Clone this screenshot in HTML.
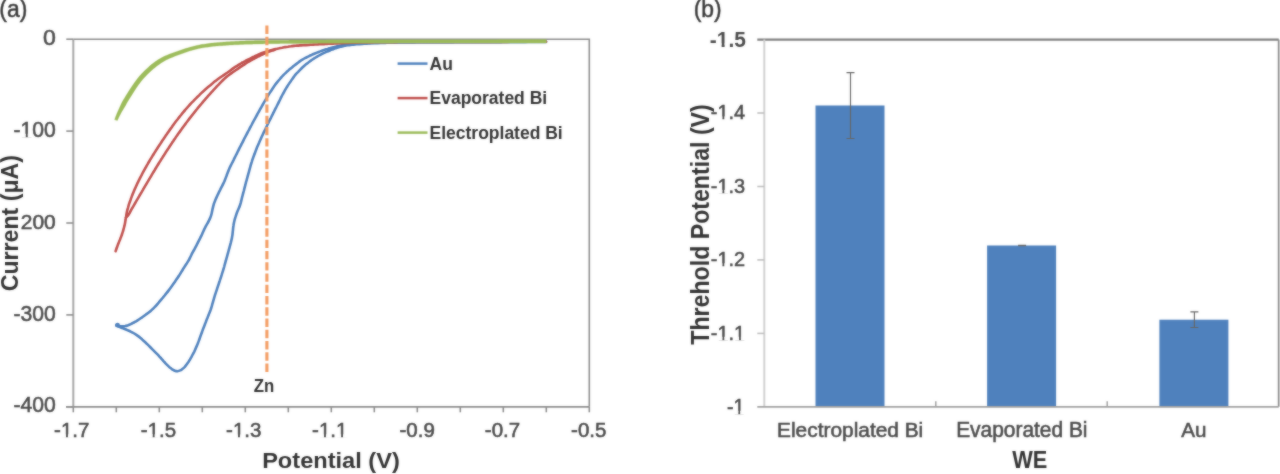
<!DOCTYPE html>
<html><head><meta charset="utf-8"><style>
html,body{margin:0;padding:0;background:#fff;width:1280px;height:474px;overflow:hidden}
svg{display:block}
text{font-family:"Liberation Sans", sans-serif}
text[font-weight="normal"],text:not([font-weight]){stroke:#4a4a4a;stroke-width:0.55px}
</style></head><body>
<svg width="1280" height="474" viewBox="0 0 1280 474">
<defs><filter id="soft" x="0" y="0" width="1280" height="474" filterUnits="userSpaceOnUse" color-interpolation-filters="sRGB"><feGaussianBlur in="SourceGraphic" stdDeviation="0.9" result="b"/><feComposite in="SourceGraphic" in2="b" operator="arithmetic" k1="0" k2="0.5" k3="0.5" k4="0"/></filter></defs>
<g filter="url(#soft)">
<rect width="1280" height="474" fill="#fff"/>
<g fill="none" stroke-linecap="butt">
<path d="M73.3 39.2H589.3V406.8" stroke="#8c8c8c" stroke-width="1.6"/>
<path d="M73.3 39.2V406.8" stroke="#a6a6a6" stroke-width="2"/>
<path d="M66.0 406.8H589.3" stroke="#8c8c8c" stroke-width="1.8"/>
<path d="M66.3 39.2H73.3" stroke="#8c8c8c" stroke-width="1.6"/>
<path d="M66.3 131.1H73.3" stroke="#8c8c8c" stroke-width="1.6"/>
<path d="M66.3 223.0H73.3" stroke="#8c8c8c" stroke-width="1.6"/>
<path d="M66.3 314.9H73.3" stroke="#8c8c8c" stroke-width="1.6"/>
<path d="M66.3 406.8H73.3" stroke="#8c8c8c" stroke-width="1.6"/>
<path d="M73.3 406.8V412.3" stroke="#8c8c8c" stroke-width="1.6"/>
<path d="M116.3 406.8V412.3" stroke="#8c8c8c" stroke-width="1.6"/>
<path d="M159.3 406.8V412.3" stroke="#8c8c8c" stroke-width="1.6"/>
<path d="M202.3 406.8V412.3" stroke="#8c8c8c" stroke-width="1.6"/>
<path d="M245.3 406.8V412.3" stroke="#8c8c8c" stroke-width="1.6"/>
<path d="M288.3 406.8V412.3" stroke="#8c8c8c" stroke-width="1.6"/>
<path d="M331.3 406.8V412.3" stroke="#8c8c8c" stroke-width="1.6"/>
<path d="M374.3 406.8V412.3" stroke="#8c8c8c" stroke-width="1.6"/>
<path d="M417.3 406.8V412.3" stroke="#8c8c8c" stroke-width="1.6"/>
<path d="M460.3 406.8V412.3" stroke="#8c8c8c" stroke-width="1.6"/>
<path d="M503.3 406.8V412.3" stroke="#8c8c8c" stroke-width="1.6"/>
<path d="M546.3 406.8V412.3" stroke="#8c8c8c" stroke-width="1.6"/>
<path d="M589.3 406.8V412.3" stroke="#8c8c8c" stroke-width="1.6"/>
</g>
<g fill="none" stroke-linecap="round" stroke-linejoin="round">
<path d="M116.4 325.3 C116.9 325.4 118.4 325.8 119.3 325.9 C120.3 326.1 121.3 326.2 122.3 326.2 C123.3 326.3 124.3 326.2 125.2 326.1 C126.2 325.9 127.1 325.6 128.1 325.3 C129.0 324.9 129.9 324.5 130.8 324.1 C131.7 323.7 132.6 323.2 133.5 322.7 C134.4 322.3 135.2 321.8 136.1 321.3 C136.9 320.7 137.8 320.2 138.6 319.7 C139.5 319.1 140.3 318.6 141.1 318.0 C142.0 317.4 142.8 316.9 143.6 316.3 C144.4 315.7 145.2 315.1 146.0 314.5 C146.8 313.9 147.6 313.4 148.4 312.7 C149.2 312.1 150.0 311.5 150.8 310.9 C151.5 310.2 152.2 309.5 153.0 308.8 C153.7 308.1 154.4 307.4 155.1 306.7 C155.8 306.0 156.4 305.2 157.1 304.5 C157.7 303.7 158.4 303.0 159.0 302.2 C159.7 301.4 160.3 300.6 160.9 299.9 C161.6 299.1 162.2 298.3 162.9 297.6 C163.5 296.8 164.1 296.0 164.8 295.3 C165.4 294.5 166.0 293.7 166.7 292.9 C167.3 292.2 167.9 291.4 168.5 290.6 C169.1 289.8 169.7 289.0 170.3 288.2 C170.9 287.4 171.5 286.6 172.1 285.8 C172.7 285.0 173.3 284.1 173.8 283.3 C174.4 282.5 175.0 281.7 175.5 280.8 C176.1 280.0 176.6 279.2 177.2 278.4 C177.8 277.5 178.3 276.7 178.9 275.9 C179.4 275.0 180.0 274.2 180.5 273.3 C181.0 272.5 181.5 271.6 182.1 270.8 C182.6 269.9 183.1 269.1 183.6 268.2 C184.2 267.4 184.7 266.5 185.2 265.7 C185.8 264.8 186.3 264.0 186.9 263.2 C187.4 262.3 188.0 261.5 188.5 260.6 C189.0 259.8 189.4 258.9 189.9 258.0 C190.3 257.1 190.7 256.2 191.2 255.3 C191.6 254.4 192.1 253.5 192.5 252.6 C193.0 251.8 193.5 250.9 194.0 250.0 C194.5 249.1 195.0 248.3 195.4 247.4 C195.9 246.5 196.4 245.6 196.8 244.7 C197.3 243.8 197.7 242.9 198.2 242.0 C198.6 241.2 199.1 240.3 199.5 239.4 C200.0 238.5 200.4 237.6 200.9 236.7 C201.3 235.8 201.8 234.9 202.2 234.0 C202.6 233.1 203.0 232.1 203.4 231.2 C203.8 230.3 204.2 229.4 204.6 228.5 C205.1 227.6 205.6 226.8 206.0 225.9 C206.5 225.0 207.1 224.2 207.5 223.3 C208.0 222.4 208.5 221.5 208.9 220.6 C209.4 219.7 209.8 218.8 210.2 217.9 C210.6 217.0 210.9 216.1 211.2 215.1 C211.5 214.2 211.7 213.2 211.9 212.2 C212.1 211.2 212.3 210.3 212.5 209.3 C212.7 208.3 213.0 207.3 213.2 206.4 C213.5 205.4 213.7 204.4 214.0 203.5 C214.4 202.5 214.7 201.6 215.1 200.7 C215.5 199.8 215.9 198.8 216.3 197.9 C216.7 197.0 217.1 196.1 217.5 195.2 C218.0 194.3 218.4 193.4 218.8 192.5 C219.3 191.6 219.7 190.7 220.2 189.8 C220.6 188.9 221.1 188.0 221.5 187.1 C222.0 186.2 222.4 185.4 222.9 184.5 C223.3 183.6 223.8 182.7 224.2 181.8 C224.6 180.8 225.0 179.9 225.3 179.0 C225.7 178.1 226.0 177.1 226.4 176.2 C226.7 175.2 227.1 174.3 227.4 173.4 C227.8 172.4 228.1 171.5 228.5 170.6 C228.9 169.7 229.3 168.7 229.7 167.8 C230.1 166.9 230.6 166.0 231.0 165.1 C231.5 164.2 231.9 163.3 232.4 162.4 C232.8 161.6 233.2 160.7 233.7 159.8 C234.1 158.9 234.6 158.0 235.0 157.1 C235.5 156.2 235.9 155.3 236.4 154.4 C236.8 153.5 237.3 152.6 237.7 151.7 C238.2 150.8 238.6 149.9 239.1 149.0 C239.5 148.1 240.0 147.2 240.4 146.4 C240.9 145.5 241.3 144.6 241.8 143.7 C242.2 142.8 242.7 141.9 243.2 141.0 C243.6 140.1 244.1 139.2 244.5 138.3 C245.0 137.5 245.4 136.6 245.9 135.7 C246.4 134.8 246.8 133.9 247.3 133.0 C247.8 132.1 248.2 131.2 248.7 130.4 C249.2 129.5 249.6 128.6 250.1 127.7 C250.6 126.8 251.0 125.9 251.5 125.1 C252.0 124.2 252.4 123.3 252.9 122.4 C253.4 121.5 253.9 120.7 254.3 119.8 C254.8 118.9 255.3 118.0 255.8 117.1 C256.3 116.3 256.7 115.4 257.2 114.5 C257.7 113.6 258.2 112.8 258.7 111.9 C259.2 111.0 259.6 110.1 260.1 109.3 C260.6 108.4 261.1 107.5 261.6 106.7 C262.1 105.8 262.6 104.9 263.1 104.0 C263.6 103.2 264.1 102.3 264.6 101.4 C265.1 100.6 265.6 99.7 266.1 98.8 C266.6 98.0 267.1 97.1 267.6 96.3 C268.1 95.4 268.7 94.6 269.2 93.7 C269.8 92.9 270.3 92.1 270.9 91.2 C271.5 90.3 272.2 89.2 272.8 88.3 C273.4 87.4 273.9 86.7 274.5 85.8 C275.1 85.0 275.6 84.2 276.2 83.4 C276.8 82.6 277.5 81.8 278.1 81.1 C278.8 80.3 279.4 79.5 280.1 78.8 C280.7 78.0 281.4 77.3 282.1 76.5 C282.7 75.8 283.4 75.1 284.1 74.4 C284.8 73.7 285.6 73.0 286.3 72.3 C287.0 71.6 287.8 71.0 288.5 70.3 C289.3 69.7 290.0 69.0 290.8 68.4 C291.6 67.7 292.3 67.1 293.1 66.4 C293.9 65.8 294.7 65.2 295.5 64.6 C296.3 64.0 297.1 63.4 297.9 62.8 C298.6 62.2 299.4 61.5 300.3 61.0 C301.1 60.4 301.9 59.9 302.8 59.4 C303.6 58.9 304.5 58.4 305.4 57.9 C306.3 57.5 307.2 57.0 308.1 56.6 C309.0 56.2 309.9 55.7 310.8 55.3 C311.7 54.9 312.6 54.4 313.5 54.0 C314.4 53.7 315.4 53.3 316.3 52.9 C317.2 52.5 318.1 52.2 319.1 51.8 C320.0 51.4 320.9 51.1 321.9 50.7 C322.8 50.4 323.8 50.1 324.7 49.8 C325.7 49.5 326.6 49.2 327.6 48.9 C328.5 48.6 329.5 48.3 330.5 48.1 C331.4 47.8 332.4 47.5 333.4 47.2 C334.3 47.0 335.3 46.7 336.3 46.5 C337.2 46.2 338.2 46.0 339.2 45.8 C340.2 45.6 341.1 45.4 342.1 45.2 C343.1 45.0 344.1 44.8 345.1 44.7 C346.1 44.5 347.0 44.4 348.0 44.3 C349.0 44.2 350.0 44.1 351.0 44.1 C352.0 44.0 353.0 43.9 354.0 43.8 C355.0 43.7 356.0 43.7 357.0 43.6 C358.0 43.5 359.0 43.5 360.0 43.4 C361.0 43.4 362.0 43.3 363.0 43.3 C364.0 43.2 365.0 43.2 366.0 43.1 C367.0 43.1 368.0 43.0 369.0 43.0 C370.0 42.9 371.0 42.9 372.0 42.9 C373.0 42.8 374.0 42.8 375.0 42.8 C376.0 42.8 377.0 42.7 378.0 42.7 C379.0 42.7 380.0 42.7 381.0 42.6 C382.0 42.6 383.0 42.6 384.0 42.6 C385.0 42.6 386.0 42.5 387.0 42.5 C388.0 42.5 389.0 42.5 390.0 42.4 C391.0 42.4 392.0 42.4 393.0 42.4 C394.0 42.3 395.0 42.3 396.0 42.3 C397.0 42.3 398.0 42.2 399.0 42.2 C400.0 42.2 401.0 42.2 402.0 42.2 C403.0 42.2 404.0 42.2 405.0 42.2 C406.0 42.2 407.0 42.2 408.0 42.2 C409.0 42.2 410.0 42.2 411.0 42.2 C412.0 42.2 413.0 42.2 414.0 42.2 C415.0 42.2 416.0 42.2 417.0 42.2 C418.0 42.2 419.0 42.1 420.0 42.1 C421.0 42.1 422.0 42.1 423.0 42.1 C424.0 42.1 425.0 42.1 426.0 42.1 C427.0 42.1 428.0 42.1 429.0 42.1 C430.0 42.1 431.0 42.1 432.0 42.1 C433.0 42.1 434.0 42.1 435.0 42.1 C436.0 42.1 437.0 42.1 438.0 42.1 C439.0 42.1 440.0 42.1 441.0 42.1 C442.0 42.1 443.0 42.1 444.0 42.1 C445.0 42.1 446.0 42.1 447.0 42.1 C448.0 42.1 449.0 42.1 450.0 42.1 C451.0 42.1 452.0 42.1 453.0 42.1 C454.0 42.1 455.0 42.0 456.0 42.0 C457.0 42.0 458.0 42.0 459.0 42.0 C460.0 42.0 461.0 42.0 462.0 42.0 C463.0 42.0 464.0 42.0 465.0 42.0 C466.0 42.0 467.0 42.0 468.0 42.0 C469.0 42.0 470.0 42.0 471.0 42.0 C472.0 42.0 473.0 42.0 474.0 42.0 C475.0 42.0 476.0 42.0 477.0 42.0 C478.0 42.0 479.0 42.0 480.0 42.0 C481.0 42.0 482.0 42.0 483.0 42.0 C484.0 42.0 485.0 42.0 486.0 42.0 C487.0 42.0 488.0 42.0 489.0 42.0 C490.0 42.0 491.0 42.0 492.0 41.9 C493.0 41.9 494.0 41.9 495.0 41.9 C496.0 41.9 497.0 41.9 498.0 41.9 C499.0 41.9 500.0 41.9 501.0 41.9 C502.0 41.9 503.0 41.9 504.0 41.9 C505.0 41.9 506.0 41.9 507.0 41.9 C508.0 41.9 509.0 41.9 510.0 41.9 C511.0 41.9 512.0 41.9 513.0 41.9 C514.0 41.9 515.0 41.9 516.0 41.9 C517.0 41.9 518.0 41.9 519.0 41.9 C520.0 41.9 521.0 41.9 522.0 41.9 C523.0 41.9 524.0 41.9 525.0 41.9 C526.0 41.9 527.0 41.9 528.0 41.8 C529.0 41.8 530.0 41.8 531.0 41.8 C532.0 41.8 533.0 41.8 534.0 41.8 C535.0 41.8 536.0 41.8 537.0 41.8 C538.0 41.8 539.0 41.8 540.0 41.8 C541.0 41.8 542.0 41.8 543.0 41.8 C544.0 41.8 545.5 41.8 546.0 41.8" stroke="#4f81bd" stroke-width="2.6"/>
<path d="M116.4 325.3 C116.8 325.5 118.1 326.3 119.0 326.7 C119.9 327.2 120.8 327.6 121.8 327.9 C122.7 328.3 123.6 328.6 124.6 329.0 C125.5 329.3 126.4 329.7 127.4 330.1 C128.3 330.5 129.2 330.9 130.1 331.3 C131.0 331.8 131.9 332.2 132.7 332.7 C133.6 333.2 134.5 333.7 135.3 334.2 C136.2 334.7 137.0 335.3 137.8 335.9 C138.6 336.5 139.4 337.1 140.2 337.8 C140.9 338.4 141.7 339.0 142.4 339.7 C143.2 340.4 143.9 341.0 144.7 341.7 C145.4 342.4 146.1 343.1 146.8 343.8 C147.6 344.5 148.3 345.2 149.0 345.9 C149.7 346.6 150.4 347.3 151.1 348.0 C151.8 348.7 152.5 349.4 153.2 350.1 C153.9 350.8 154.6 351.5 155.4 352.3 C156.1 353.0 156.8 353.7 157.5 354.4 C158.2 355.1 158.8 355.8 159.5 356.6 C160.2 357.3 160.8 358.1 161.5 358.8 C162.2 359.6 162.8 360.3 163.5 361.1 C164.2 361.8 164.8 362.6 165.5 363.3 C166.2 364.0 166.9 364.7 167.6 365.4 C168.3 366.1 169.0 366.8 169.8 367.5 C170.6 368.1 171.3 368.7 172.2 369.3 C173.0 369.8 173.8 370.4 174.7 370.7 C175.6 371.0 176.5 371.2 177.5 371.2 C178.4 371.1 179.3 370.8 180.2 370.4 C181.0 370.1 181.8 369.4 182.6 368.8 C183.4 368.2 184.1 367.5 184.8 366.8 C185.4 366.1 186.0 365.3 186.6 364.5 C187.2 363.7 187.8 362.8 188.4 362.0 C188.9 361.2 189.4 360.3 190.0 359.5 C190.5 358.6 191.0 357.8 191.5 356.9 C191.9 356.0 192.4 355.1 192.9 354.2 C193.4 353.4 193.8 352.5 194.3 351.6 C194.7 350.7 195.1 349.8 195.5 348.9 C195.9 347.9 196.3 347.0 196.7 346.1 C197.1 345.2 197.5 344.3 197.9 343.3 C198.2 342.4 198.6 341.5 198.9 340.5 C199.3 339.6 199.6 338.6 199.9 337.7 C200.3 336.8 200.6 335.8 200.9 334.9 C201.3 333.9 201.6 333.0 202.0 332.1 C202.3 331.1 202.7 330.2 203.0 329.2 C203.4 328.3 203.7 327.4 204.1 326.4 C204.5 325.5 204.8 324.6 205.2 323.6 C205.5 322.7 205.9 321.8 206.3 320.8 C206.6 319.9 207.0 319.0 207.4 318.0 C207.7 317.1 208.1 316.2 208.5 315.3 C208.8 314.3 209.2 313.4 209.6 312.5 C210.0 311.6 210.4 310.6 210.7 309.7 C211.0 308.7 211.3 307.8 211.6 306.8 C211.9 305.9 212.1 304.9 212.4 303.9 C212.7 303.0 213.0 302.0 213.2 301.1 C213.5 300.1 213.8 299.1 214.1 298.2 C214.3 297.2 214.6 296.3 214.9 295.3 C215.3 294.3 215.7 293.0 216.0 292.0 C216.4 291.0 216.7 290.1 217.0 289.1 C217.3 288.2 217.6 287.2 217.9 286.3 C218.3 285.3 218.6 284.4 218.9 283.4 C219.2 282.5 219.5 281.5 219.8 280.6 C220.1 279.6 220.5 278.7 220.8 277.7 C221.1 276.8 221.4 275.8 221.7 274.9 C222.0 273.9 222.3 273.0 222.6 272.0 C222.9 271.1 223.2 270.1 223.5 269.2 C223.7 268.2 224.0 267.2 224.3 266.3 C224.5 265.3 224.8 264.3 225.1 263.4 C225.3 262.4 225.6 261.4 225.9 260.5 C226.2 259.5 226.4 258.6 226.7 257.6 C227.0 256.6 227.3 255.7 227.5 254.7 C227.8 253.8 228.1 252.8 228.3 251.8 C228.6 250.9 228.8 249.9 229.1 248.9 C229.4 248.0 229.6 247.0 229.9 246.0 C230.2 245.1 230.4 244.1 230.7 243.1 C230.9 242.2 231.2 241.2 231.4 240.2 C231.6 239.2 231.9 238.3 232.0 237.3 C232.2 236.3 232.4 235.3 232.5 234.3 C232.6 233.3 232.7 232.3 232.8 231.3 C233.0 230.4 233.0 229.4 233.1 228.4 C233.2 227.4 233.3 226.4 233.5 225.4 C233.6 224.4 233.8 223.4 234.0 222.4 C234.2 221.5 234.5 220.5 234.7 219.5 C235.0 218.6 235.3 217.6 235.6 216.7 C235.9 215.7 236.2 214.7 236.5 213.8 C236.8 212.9 237.2 211.9 237.6 211.0 C238.0 210.1 238.4 209.2 238.8 208.3 C239.2 207.4 239.6 206.4 239.9 205.5 C240.2 204.6 240.5 203.6 240.8 202.6 C241.0 201.7 241.3 200.7 241.5 199.7 C241.7 198.8 242.0 197.8 242.2 196.8 C242.5 195.9 242.7 194.9 243.0 193.9 C243.3 192.9 243.5 192.0 243.8 191.0 C244.0 190.0 244.3 189.1 244.5 188.1 C244.8 187.1 245.0 186.2 245.3 185.2 C245.5 184.2 245.8 183.3 246.0 182.3 C246.3 181.3 246.6 180.4 246.8 179.4 C247.1 178.4 247.4 177.5 247.6 176.5 C247.9 175.6 248.2 174.6 248.4 173.6 C248.7 172.7 249.0 171.7 249.2 170.7 C249.5 169.8 249.7 168.8 250.0 167.8 C250.3 166.9 250.5 165.9 250.8 164.9 C251.1 164.0 251.4 163.0 251.7 162.1 C252.0 161.1 252.3 160.2 252.6 159.2 C253.0 158.3 253.3 157.3 253.6 156.4 C254.0 155.4 254.3 154.5 254.7 153.6 C255.0 152.6 255.4 151.7 255.7 150.8 C256.1 149.8 256.5 148.9 256.8 148.0 C257.2 147.1 257.6 146.1 258.0 145.2 C258.4 144.3 258.8 143.4 259.2 142.5 C259.6 141.5 260.0 140.6 260.4 139.7 C260.8 138.8 261.2 137.9 261.6 137.0 C262.0 136.1 262.5 135.2 262.9 134.2 C263.3 133.3 263.7 132.4 264.2 131.5 C264.6 130.6 265.0 129.7 265.5 128.8 C265.9 127.9 266.3 127.0 266.8 126.1 C267.2 125.2 267.7 124.3 268.1 123.4 C268.5 122.5 269.0 121.6 269.4 120.7 C269.9 119.9 270.3 119.0 270.8 118.1 C271.2 117.2 271.7 116.3 272.1 115.4 C272.6 114.5 273.0 113.6 273.5 112.7 C273.9 111.8 274.4 110.9 274.8 110.0 C275.3 109.1 275.7 108.2 276.2 107.3 C276.6 106.4 277.1 105.6 277.5 104.7 C278.0 103.8 278.4 102.9 278.9 102.0 C279.3 101.1 279.7 100.2 280.2 99.3 C280.6 98.4 281.1 97.5 281.5 96.6 C282.0 95.7 282.5 94.8 282.9 94.0 C283.4 93.1 283.9 92.2 284.4 91.3 C284.9 90.5 285.4 89.6 285.9 88.7 C286.4 87.9 286.9 87.0 287.4 86.2 C288.0 85.3 288.5 84.5 289.1 83.6 C289.6 82.8 290.2 82.0 290.8 81.2 C291.3 80.3 291.9 79.5 292.5 78.7 C293.1 77.9 293.6 77.0 294.2 76.3 C294.8 75.5 295.4 74.7 296.1 73.9 C296.8 73.2 297.5 72.5 298.2 71.8 C298.9 71.0 299.6 70.3 300.3 69.6 C301.0 68.9 301.7 68.2 302.4 67.5 C303.1 66.8 303.9 66.2 304.6 65.5 C305.4 64.9 306.2 64.3 307.0 63.6 C307.8 63.0 308.5 62.4 309.3 61.8 C310.1 61.2 310.9 60.6 311.7 60.0 C312.5 59.4 313.4 58.8 314.2 58.3 C315.0 57.8 315.9 57.3 316.8 56.8 C317.7 56.3 318.5 55.8 319.4 55.4 C320.3 54.9 321.2 54.4 322.1 53.9 C323.0 53.5 323.8 53.0 324.8 52.6 C325.7 52.2 326.6 51.8 327.5 51.4 C328.4 51.1 329.4 50.7 330.3 50.3 C331.2 49.9 332.1 49.6 333.1 49.2 C334.0 48.8 335.0 48.5 335.9 48.2 C336.8 47.9 337.8 47.6 338.8 47.3 C339.7 47.0 340.7 46.8 341.7 46.5 C342.6 46.3 343.6 46.0 344.6 45.8 C345.6 45.6 346.5 45.5 347.5 45.3 C348.5 45.2 349.5 45.1 350.5 44.9 C351.5 44.8 352.5 44.7 353.5 44.6 C354.5 44.5 355.5 44.4 356.5 44.3 C357.5 44.2 358.5 44.1 359.5 44.1 C360.5 44.0 361.5 43.9 362.5 43.9 C363.5 43.8 364.5 43.7 365.5 43.6 C366.4 43.6 367.4 43.5 368.4 43.4 C369.4 43.4 370.4 43.3 371.4 43.3 C372.4 43.2 373.4 43.2 374.4 43.2 C375.4 43.1 376.4 43.1 377.4 43.1 C378.5 43.0 379.9 43.0 380.9 43.0 C382.0 42.9 382.9 42.9 383.9 42.9 C384.9 42.9 385.9 42.8 386.9 42.8 C387.9 42.8 388.9 42.7 389.9 42.7 C390.9 42.7 391.9 42.6 392.9 42.6 C393.9 42.6 394.9 42.6 395.9 42.5 C396.9 42.5 397.9 42.5 398.9 42.4 C399.9 42.4 400.9 42.4 401.9 42.4 C402.9 42.4 403.9 42.4 404.9 42.4 C405.9 42.4 406.9 42.4 407.9 42.4 C408.9 42.4 409.9 42.4 410.9 42.4 C411.9 42.4 412.9 42.4 413.9 42.4 C414.9 42.3 415.9 42.3 416.9 42.3 C417.9 42.3 418.9 42.3 419.9 42.3 C420.9 42.3 421.9 42.3 422.9 42.3 C423.9 42.3 425.0 42.3 426.0 42.3 C427.0 42.3 428.0 42.3 429.0 42.3 C430.0 42.3 431.0 42.3 432.0 42.3 C433.0 42.3 434.0 42.3 435.0 42.3 C436.0 42.3 437.0 42.3 438.0 42.3 C439.0 42.3 440.0 42.3 441.0 42.3 C442.0 42.3 443.0 42.3 444.0 42.2 C445.0 42.2 446.0 42.2 447.0 42.2 C448.0 42.2 449.0 42.2 450.0 42.2 C451.0 42.2 452.0 42.2 453.0 42.2 C454.0 42.2 455.0 42.2 456.0 42.2 C457.0 42.2 458.0 42.2 459.0 42.2 C460.0 42.2 461.0 42.2 462.0 42.2 C463.0 42.2 464.0 42.2 465.0 42.2 C466.0 42.2 467.0 42.2 468.0 42.2 C469.0 42.2 470.0 42.2 471.0 42.2 C472.0 42.2 473.0 42.2 474.0 42.1 C475.0 42.1 476.0 42.1 477.0 42.1 C478.0 42.1 479.0 42.1 480.0 42.1 C481.0 42.1 482.0 42.1 483.0 42.1 C484.0 42.1 485.0 42.1 486.0 42.1 C487.0 42.1 488.0 42.1 489.0 42.1 C490.0 42.1 491.0 42.1 492.0 42.1 C493.0 42.1 494.0 42.1 495.0 42.1 C496.0 42.1 497.0 42.1 498.0 42.1 C499.0 42.1 500.0 42.1 501.0 42.1 C502.0 42.1 503.0 42.0 504.0 42.0 C505.0 42.0 506.0 42.0 507.0 42.0 C508.0 42.0 509.0 42.0 510.0 42.0 C511.0 42.0 512.0 42.0 513.0 42.0 C514.0 42.0 515.0 42.0 516.0 42.0 C517.0 42.0 518.0 42.0 519.0 42.0 C520.0 42.0 521.0 42.0 522.0 42.0 C523.0 42.0 524.0 42.0 525.0 42.0 C526.0 42.0 527.0 42.0 528.0 42.0 C529.0 42.0 530.0 42.0 531.0 42.0 C532.0 41.9 533.0 41.9 534.0 41.9 C535.0 41.9 536.0 41.9 537.0 41.9 C538.0 41.9 539.0 41.9 540.0 41.9 C541.0 41.9 542.0 41.9 543.0 41.9 C544.0 41.9 545.5 41.9 546.0 41.9" stroke="#4f81bd" stroke-width="2.6"/>
<circle cx="117.5" cy="325.2" r="2.4" fill="#4f81bd"/>
<path d="M115.6 251.2 C115.8 250.7 116.2 249.3 116.6 248.4 C116.9 247.4 117.3 246.5 117.6 245.5 C118.0 244.6 118.3 243.7 118.7 242.7 C119.1 241.8 119.4 240.9 119.8 240.0 C120.2 239.0 120.6 238.1 120.9 237.2 C121.3 236.2 121.6 235.3 122.0 234.4 C122.3 233.4 122.6 232.5 122.9 231.5 C123.2 230.6 123.5 229.6 123.7 228.6 C124.0 227.7 124.2 226.7 124.5 225.7 C124.7 224.8 124.9 223.8 125.1 222.8 C125.2 221.8 125.4 220.8 125.6 219.8 C125.7 218.8 125.9 217.9 126.1 216.9 C126.2 215.9 126.4 214.9 126.5 213.9 C126.7 212.9 126.9 211.9 127.1 211.0 C127.3 210.0 127.6 209.0 127.9 208.1 C128.1 207.1 128.4 206.2 128.7 205.2 C129.0 204.2 129.3 203.3 129.7 202.3 C130.0 201.4 130.3 200.5 130.7 199.5 C131.0 198.6 131.3 197.6 131.7 196.7 C132.1 195.8 132.4 194.8 132.8 193.9 C133.2 193.0 133.6 192.1 133.9 191.1 C134.3 190.2 134.7 189.3 135.1 188.4 C135.5 187.5 136.0 186.6 136.4 185.6 C136.8 184.7 137.2 183.8 137.6 182.9 C138.1 182.0 138.5 181.1 139.0 180.2 C139.4 179.3 139.8 178.4 140.3 177.5 C140.8 176.7 141.2 175.8 141.7 174.9 C142.1 174.0 142.6 173.1 143.1 172.2 C143.6 171.3 144.0 170.5 144.5 169.6 C145.0 168.7 145.5 167.8 146.0 167.0 C146.5 166.1 147.0 165.2 147.5 164.4 C148.0 163.5 148.5 162.6 149.0 161.8 C149.5 160.9 150.0 160.1 150.5 159.2 C151.1 158.3 151.6 157.5 152.1 156.6 C152.6 155.8 153.1 154.9 153.7 154.1 C154.2 153.2 154.7 152.4 155.3 151.5 C155.8 150.7 156.3 149.9 156.9 149.0 C157.4 148.2 158.0 147.3 158.5 146.5 C159.1 145.7 159.6 144.8 160.2 144.0 C160.7 143.1 161.3 142.3 161.8 141.5 C162.4 140.6 162.9 139.8 163.5 139.0 C164.0 138.2 164.6 137.3 165.2 136.5 C165.7 135.7 166.3 134.9 166.9 134.0 C167.4 133.2 168.0 132.4 168.6 131.6 C169.2 130.7 169.7 129.9 170.3 129.1 C170.9 128.3 171.5 127.5 172.1 126.7 C172.6 125.9 173.2 125.1 173.8 124.2 C174.4 123.4 175.0 122.6 175.6 121.8 C176.2 121.0 176.8 120.3 177.5 119.5 C178.1 118.7 178.7 117.9 179.3 117.1 C179.9 116.3 180.5 115.5 181.2 114.8 C181.8 114.0 182.4 113.2 183.1 112.4 C183.7 111.7 184.4 110.9 185.0 110.1 C185.7 109.4 186.3 108.6 187.0 107.9 C187.7 107.1 188.3 106.4 189.0 105.6 C189.7 104.9 190.3 104.2 191.0 103.4 C191.7 102.7 192.4 102.0 193.1 101.3 C193.8 100.5 194.5 99.8 195.2 99.1 C195.9 98.4 196.6 97.7 197.3 97.0 C198.0 96.3 198.7 95.6 199.5 94.9 C200.2 94.2 200.9 93.5 201.6 92.8 C202.4 92.2 203.1 91.5 203.9 90.8 C204.6 90.1 205.3 89.5 206.1 88.8 C206.8 88.2 207.6 87.5 208.4 86.8 C209.1 86.2 209.9 85.6 210.7 84.9 C211.4 84.3 212.2 83.6 213.0 83.0 C213.8 82.4 214.5 81.8 215.3 81.1 C216.1 80.5 216.9 79.9 217.7 79.3 C218.5 78.7 219.3 78.1 220.1 77.5 C220.9 76.9 221.7 76.4 222.6 75.8 C223.4 75.2 224.2 74.7 225.1 74.1 C225.9 73.6 226.7 73.0 227.5 72.5 C228.4 71.9 229.2 71.3 230.0 70.7 C230.8 70.1 231.6 69.5 232.4 68.9 C233.2 68.3 234.0 67.7 234.8 67.2 C235.7 66.6 236.5 66.1 237.4 65.6 C238.2 65.0 239.1 64.5 239.9 64.0 C240.8 63.5 241.6 63.0 242.5 62.5 C243.4 62.0 244.3 61.6 245.2 61.1 C246.0 60.6 246.9 60.2 247.8 59.7 C248.7 59.3 249.6 58.8 250.5 58.4 C251.4 57.9 252.3 57.5 253.2 57.0 C254.1 56.6 255.0 56.1 255.9 55.7 C256.8 55.3 257.7 54.9 258.6 54.5 C259.6 54.1 260.5 53.7 261.4 53.3 C262.3 53.0 263.3 52.6 264.2 52.3 C265.1 52.0 266.1 51.7 267.1 51.4 C268.0 51.1 269.0 50.8 269.9 50.5 C270.9 50.3 271.9 50.0 272.8 49.7 C273.8 49.5 274.7 49.3 275.7 49.0 C276.8 48.8 278.1 48.5 279.2 48.3 C280.2 48.0 281.1 47.8 282.1 47.7 C283.1 47.5 284.1 47.3 285.1 47.1 C286.0 47.0 287.0 46.8 288.0 46.7 C289.0 46.5 290.0 46.4 291.0 46.3 C292.0 46.1 293.0 46.0 294.0 45.9 C295.0 45.8 296.0 45.7 297.0 45.6 C298.0 45.6 299.0 45.5 300.0 45.4 C300.9 45.4 301.9 45.3 302.9 45.2 C303.9 45.2 304.9 45.1 305.9 45.1 C306.9 45.0 307.9 44.9 308.9 44.9 C309.9 44.8 310.9 44.8 311.9 44.7 C312.9 44.6 313.9 44.6 314.9 44.5 C315.9 44.5 316.9 44.4 317.9 44.4 C318.9 44.3 319.9 44.3 320.9 44.2 C321.9 44.2 322.9 44.1 323.9 44.1 C324.9 44.0 325.9 44.0 326.9 43.9 C327.9 43.8 328.9 43.8 329.9 43.7 C330.9 43.7 331.9 43.6 332.9 43.6 C333.9 43.5 334.9 43.5 335.9 43.4 C336.9 43.4 337.9 43.3 338.9 43.3 C339.9 43.2 340.9 43.2 341.9 43.1 C342.9 43.1 343.9 43.1 344.9 43.0 C345.9 43.0 346.9 43.0 347.9 42.9 C348.9 42.9 349.9 42.9 350.9 42.8 C351.9 42.8 352.9 42.7 353.9 42.7 C354.9 42.7 355.9 42.6 356.9 42.6 C357.9 42.6 358.9 42.6 359.9 42.5 C360.9 42.5 361.9 42.5 362.9 42.5 C363.9 42.5 364.9 42.4 365.9 42.4 C366.9 42.4 367.9 42.4 368.9 42.4 C369.9 42.4 370.9 42.4 371.9 42.4 C372.9 42.3 373.9 42.3 374.9 42.3 C375.9 42.3 376.9 42.3 377.9 42.3 C378.9 42.3 379.9 42.3 380.9 42.2 C381.9 42.2 382.9 42.2 383.9 42.2 C384.9 42.2 385.9 42.2 386.9 42.2 C387.9 42.2 388.9 42.1 389.9 42.1 C390.9 42.1 391.9 42.1 392.9 42.1 C393.9 42.1 394.9 42.1 395.9 42.1 C396.9 42.0 397.9 42.0 398.9 42.0 C399.9 42.0 400.9 42.0 401.9 42.0 C402.9 42.0 403.9 42.0 404.9 42.0 C405.9 42.0 406.9 42.0 407.9 42.0 C408.9 42.0 409.9 42.0 410.9 42.0 C411.9 42.0 412.9 42.0 413.9 42.0 C414.9 42.0 415.9 42.0 416.9 42.0 C417.9 42.0 418.9 42.0 419.9 42.0 C420.9 42.0 421.9 42.0 422.9 42.0 C423.9 42.0 424.9 42.0 425.9 42.0 C426.9 42.0 427.9 42.0 428.9 42.0 C429.9 42.0 430.9 42.0 431.9 42.0 C432.9 42.0 433.9 42.0 434.9 42.0 C435.9 42.0 436.9 41.9 437.9 41.9 C438.9 41.9 439.9 41.9 440.9 41.9 C441.9 41.9 442.9 41.9 443.9 41.9 C444.9 41.9 445.9 41.9 446.9 41.9 C447.9 41.9 449.0 41.9 450.0 41.9 C451.0 41.9 452.0 41.9 453.0 41.9 C454.0 41.9 455.0 41.9 456.0 41.9 C457.0 41.9 458.0 41.9 459.0 41.9 C460.0 41.9 461.0 41.9 462.0 41.9 C463.0 41.9 464.0 41.9 465.0 41.9 C466.0 41.9 467.0 41.9 468.0 41.9 C469.0 41.9 470.0 41.9 471.0 41.9 C472.0 41.9 473.0 41.9 474.0 41.9 C475.0 41.9 476.0 41.9 477.0 41.9 C478.0 41.9 479.0 41.9 480.0 41.9 C481.0 41.9 482.0 41.9 483.0 41.9 C484.0 41.9 485.0 41.9 486.0 41.9 C487.0 41.9 488.0 41.9 489.0 41.9 C490.0 41.9 491.0 41.9 492.0 41.9 C493.0 41.9 494.0 41.9 495.0 41.9 C496.0 41.9 497.0 41.9 498.0 41.9 C499.0 41.9 500.0 41.9 501.0 41.9 C502.0 41.9 503.0 41.9 504.0 41.9 C505.0 41.9 506.0 41.9 507.0 41.9 C508.0 41.9 509.0 41.9 510.0 41.8 C511.0 41.8 512.0 41.8 513.0 41.8 C514.0 41.8 515.0 41.8 516.0 41.8 C517.0 41.8 518.0 41.8 519.0 41.8 C520.0 41.8 521.0 41.8 522.0 41.8 C523.0 41.8 524.0 41.8 525.0 41.8 C526.0 41.8 527.0 41.8 528.0 41.8 C529.0 41.8 530.0 41.8 531.0 41.8 C532.0 41.8 533.0 41.8 534.0 41.8 C535.0 41.8 536.0 41.8 537.0 41.8 C538.0 41.8 539.0 41.8 540.0 41.8 C541.0 41.8 542.0 41.8 543.0 41.8 C544.0 41.8 545.5 41.8 546.0 41.8" stroke="#c0504d" stroke-width="2.6"/>
<path d="M126.0 217.5 C126.3 217.2 127.5 216.3 128.1 215.5 C128.7 214.8 129.1 213.8 129.6 213.0 C130.1 212.1 130.5 211.2 131.0 210.3 C131.5 209.5 132.0 208.6 132.5 207.7 C133.0 206.9 133.5 206.0 134.0 205.1 C134.5 204.3 135.0 203.4 135.5 202.5 C136.0 201.7 136.5 200.8 137.0 199.9 C137.5 199.1 138.0 198.2 138.5 197.3 C139.0 196.5 139.5 195.6 140.0 194.8 C140.5 193.9 141.0 193.0 141.6 192.2 C142.1 191.3 142.6 190.4 143.1 189.6 C143.6 188.7 144.0 187.9 144.6 187.0 C145.1 186.0 145.8 184.9 146.4 184.0 C146.9 183.0 147.4 182.2 147.9 181.4 C148.4 180.5 148.9 179.7 149.4 178.8 C149.9 177.9 150.4 177.1 151.0 176.2 C151.5 175.4 152.0 174.5 152.5 173.6 C153.0 172.8 153.5 171.9 154.1 171.1 C154.6 170.2 155.1 169.4 155.6 168.5 C156.1 167.6 156.7 166.8 157.2 165.9 C157.7 165.1 158.2 164.2 158.8 163.4 C159.3 162.5 159.8 161.7 160.4 160.8 C160.9 160.0 161.4 159.1 162.0 158.3 C162.5 157.5 163.0 156.6 163.6 155.8 C164.1 154.9 164.6 154.1 165.2 153.2 C165.7 152.4 166.3 151.6 166.8 150.7 C167.4 149.9 167.9 149.0 168.5 148.2 C169.0 147.4 169.6 146.5 170.1 145.7 C170.7 144.9 171.2 144.0 171.8 143.2 C172.3 142.4 172.9 141.6 173.5 140.7 C174.0 139.9 174.6 139.1 175.2 138.2 C175.7 137.4 176.3 136.6 176.9 135.8 C177.5 135.0 178.0 134.1 178.6 133.3 C179.2 132.5 179.8 131.7 180.4 130.9 C180.9 130.1 181.5 129.3 182.1 128.4 C182.7 127.6 183.3 126.8 183.9 126.0 C184.5 125.2 185.0 124.5 185.7 123.6 C186.3 122.7 187.1 121.7 187.8 120.8 C188.4 120.0 189.0 119.2 189.6 118.4 C190.2 117.6 190.8 116.8 191.4 116.1 C192.1 115.3 192.7 114.5 193.3 113.7 C193.9 112.9 194.5 112.1 195.2 111.3 C195.8 110.6 196.4 109.8 197.1 109.0 C197.7 108.2 198.3 107.5 199.0 106.7 C199.6 105.9 200.2 105.2 200.9 104.4 C201.5 103.6 202.2 102.9 202.8 102.1 C203.5 101.3 204.1 100.6 204.8 99.8 C205.4 99.1 206.1 98.3 206.7 97.6 C207.4 96.8 208.1 96.1 208.7 95.3 C209.4 94.6 210.1 93.8 210.7 93.1 C211.4 92.3 212.1 91.6 212.8 90.8 C213.4 90.1 214.1 89.4 214.8 88.6 C215.5 87.9 216.2 87.2 216.8 86.4 C217.5 85.7 218.2 85.0 218.9 84.3 C219.6 83.6 220.3 82.8 221.0 82.1 C221.7 81.4 222.4 80.7 223.1 80.0 C223.8 79.3 224.5 78.6 225.3 77.9 C226.0 77.3 226.8 76.6 227.6 76.0 C228.4 75.4 229.2 74.8 230.0 74.2 C230.8 73.6 231.6 73.1 232.4 72.5 C233.3 71.9 234.1 71.3 234.9 70.8 C235.7 70.2 236.6 69.6 237.4 69.1 C238.2 68.5 239.0 68.0 239.9 67.4 C240.8 66.8 241.9 66.0 242.8 65.4 C243.7 64.8 244.5 64.3 245.3 63.8 C246.1 63.3 247.0 62.7 247.8 62.2 C248.7 61.7 249.6 61.2 250.4 60.7 C251.3 60.2 252.2 59.7 253.0 59.2 C253.9 58.7 254.8 58.3 255.7 57.8 C256.6 57.3 257.5 56.9 258.4 56.4 C259.3 56.0 260.2 55.5 261.1 55.1 C262.0 54.7 262.9 54.3 263.8 53.9 C264.7 53.5 265.6 53.1 266.5 52.7 C267.5 52.3 268.4 51.9 269.3 51.6 C270.3 51.2 271.2 50.9 272.2 50.6 C273.1 50.2 274.5 49.8 275.0 49.6" stroke="#c0504d" stroke-width="2.6"/>
<path d="M117.33 120.56 L117.97 119.19 L118.60 117.84 L119.24 116.51 L119.90 115.20 L120.58 113.89 L121.30 112.60 L122.05 111.32 L122.81 110.03 L123.58 108.74 L124.34 107.45 L125.11 106.16 L125.86 104.88 L126.56 103.60 L127.28 102.33 L128.03 101.08 L128.80 99.83 L129.60 98.56 L130.40 97.29 L131.20 96.01 L131.99 94.73 L132.78 93.46 L133.56 92.20 L134.36 90.95 L135.16 89.71 L135.98 88.48 L136.81 87.26 L137.66 86.05 L138.51 84.85 L139.38 83.67 L140.26 82.50 L141.16 81.35 L142.08 80.22 L143.02 79.11 L143.98 78.01 L144.96 76.94 L145.96 75.89 L146.99 74.85 L148.04 73.82 L149.11 72.80 L150.19 71.79 L151.27 70.80 L152.37 69.82 L153.48 68.85 L154.59 67.91 L155.71 67.00 L156.86 66.12 L158.02 65.24 L159.19 64.38 L160.37 63.54 L161.58 62.73 L162.80 61.95 L164.03 61.21 L165.27 60.51 L166.55 59.86 L167.86 59.23 L169.20 58.62 L170.55 58.02 L171.91 57.45 L173.27 56.90 L174.64 56.37 L176.03 55.85 L177.43 55.34 L178.84 54.83 L180.25 54.32 L181.66 53.81 L183.08 53.30 L184.49 52.80 L185.90 52.29 L187.30 51.80 L188.70 51.32 L190.10 50.86 L191.50 50.44 L192.91 50.04 L194.35 49.67 L195.79 49.31 L197.24 48.96 L198.67 48.62 L200.11 48.31 L201.54 48.04 L202.99 47.80 L204.45 47.58 L205.93 47.36 L207.41 47.15 L208.90 46.94 L210.38 46.74 L211.85 46.54 L213.32 46.36 L214.78 46.21 L216.25 46.07 L217.74 45.95 L219.23 45.84 L220.72 45.74 L222.22 45.63 L223.72 45.52 L225.21 45.41 L226.71 45.31 L228.20 45.20 L229.69 45.10 L231.18 45.01 L232.67 44.93 L234.17 44.85 L235.66 44.78 L237.16 44.70 L238.66 44.63 L240.16 44.56 L241.66 44.48 L243.15 44.42 L244.64 44.35 L246.13 44.30 L247.63 44.25 L249.13 44.21 L250.62 44.17 L252.12 44.13 L253.62 44.09 L255.12 44.05 L256.62 44.01 L258.12 43.97 L259.62 43.93 L261.12 43.90 L262.61 43.88 L264.11 43.85 L265.61 43.83 L267.11 43.81 L268.61 43.78 L270.11 43.76 L271.62 43.74 L273.12 43.72 L274.62 43.69 L276.12 43.67 L277.62 43.65 L279.12 43.63 L280.61 43.61 L282.11 43.60 L283.61 43.59 L285.11 43.57 L286.61 43.56 L288.11 43.55 L289.62 43.54 L291.12 43.53 L292.62 43.52 L294.12 43.51 L295.62 43.49 L297.12 43.48 L298.62 43.47 L300.12 43.46 L301.62 43.45 L303.13 43.44 L304.63 43.43 L306.13 43.41 L307.63 43.40 L309.13 43.39 L310.63 43.38 L312.13 43.37 L313.63 43.36 L315.13 43.35 L316.63 43.34 L318.13 43.33 L319.63 43.32 L321.13 43.31 L322.63 43.30 L324.13 43.30 L325.63 43.30 L327.13 43.29 L328.64 43.29 L330.14 43.28 L331.64 43.28 L333.14 43.28 L334.64 43.27 L336.14 43.27 L337.64 43.27 L339.14 43.26 L340.65 43.26 L342.15 43.25 L343.65 43.25 L345.15 43.25 L346.65 43.24 L348.15 43.24 L349.65 43.24 L351.15 43.23 L352.65 43.23 L354.16 43.22 L355.66 43.22 L357.16 43.22 L358.66 43.21 L360.16 43.21 L361.66 43.21 L363.16 43.20 L364.66 43.20 L366.16 43.19 L367.67 43.19 L369.17 43.19 L370.67 43.18 L372.17 43.18 L373.67 43.17 L375.17 43.17 L376.67 43.17 L378.17 43.16 L379.68 43.16 L381.18 43.16 L382.68 43.15 L384.18 43.15 L385.68 43.14 L387.18 43.14 L388.68 43.14 L390.18 43.13 L391.68 43.13 L393.19 43.13 L394.69 43.12 L396.19 43.12 L397.69 43.12 L399.19 43.11 L400.69 43.11 L402.19 43.11 L403.69 43.11 L405.19 43.11 L406.69 43.10 L408.19 43.10 L409.70 43.10 L411.20 43.10 L412.70 43.10 L414.20 43.10 L415.70 43.10 L417.20 43.10 L418.70 43.10 L420.20 43.09 L421.70 43.09 L423.21 43.09 L424.71 43.09 L426.21 43.09 L427.71 43.09 L429.21 43.09 L430.71 43.09 L432.21 43.09 L433.71 43.09 L435.22 43.08 L436.72 43.08 L438.22 43.08 L439.72 43.08 L441.22 43.08 L442.72 43.08 L444.22 43.08 L445.72 43.08 L447.22 43.08 L448.73 43.08 L450.23 43.07 L451.73 43.07 L453.23 43.07 L454.73 43.07 L456.23 43.07 L457.73 43.07 L459.23 43.07 L460.73 43.07 L462.24 43.07 L463.74 43.06 L465.24 43.06 L466.74 43.06 L468.24 43.06 L469.74 43.06 L471.24 43.06 L472.74 43.06 L474.25 43.06 L475.75 43.06 L477.25 43.06 L478.75 43.05 L480.25 43.05 L481.75 43.05 L483.25 43.05 L484.75 43.05 L486.25 43.05 L487.76 43.05 L489.26 43.05 L490.76 43.05 L492.26 43.05 L493.76 43.04 L495.26 43.04 L496.76 43.04 L498.26 43.04 L499.77 43.04 L501.27 43.04 L502.77 43.04 L504.27 43.04 L505.77 43.04 L507.27 43.03 L508.77 43.03 L510.27 43.03 L511.77 43.03 L513.28 43.03 L514.78 43.03 L516.28 43.03 L517.78 43.03 L519.28 43.03 L520.78 43.03 L522.28 43.02 L523.78 43.02 L525.28 43.02 L526.79 43.02 L528.29 43.02 L529.79 43.02 L531.29 43.02 L532.79 43.02 L534.29 43.02 L535.79 43.02 L537.29 43.01 L538.80 43.01 L540.30 43.01 L541.80 43.01 L543.30 43.01 L544.80 43.01 L546.30 43.01 L546.30 39.59 L544.80 39.59 L543.30 39.59 L541.80 39.59 L540.29 39.60 L538.79 39.60 L537.29 39.60 L535.79 39.60 L534.29 39.60 L532.79 39.60 L531.29 39.60 L529.79 39.60 L528.28 39.60 L526.78 39.61 L525.28 39.61 L523.78 39.61 L522.28 39.61 L520.78 39.61 L519.28 39.61 L517.78 39.61 L516.28 39.61 L514.77 39.61 L513.27 39.61 L511.77 39.62 L510.27 39.62 L508.77 39.62 L507.27 39.62 L505.77 39.62 L504.27 39.62 L502.77 39.62 L501.26 39.62 L499.76 39.62 L498.26 39.62 L496.76 39.63 L495.26 39.63 L493.76 39.63 L492.26 39.63 L490.76 39.63 L489.25 39.63 L487.75 39.63 L486.25 39.63 L484.75 39.63 L483.25 39.63 L481.75 39.64 L480.25 39.64 L478.75 39.64 L477.25 39.64 L475.74 39.64 L474.24 39.64 L472.74 39.64 L471.24 39.64 L469.74 39.64 L468.24 39.64 L466.74 39.65 L465.24 39.65 L463.73 39.65 L462.23 39.65 L460.73 39.65 L459.23 39.65 L457.73 39.65 L456.23 39.65 L454.73 39.65 L453.23 39.66 L451.73 39.66 L450.22 39.66 L448.72 39.66 L447.22 39.66 L445.72 39.66 L444.22 39.66 L442.72 39.66 L441.22 39.66 L439.72 39.66 L438.22 39.67 L436.71 39.67 L435.21 39.67 L433.71 39.67 L432.21 39.67 L430.71 39.67 L429.21 39.67 L427.71 39.67 L426.21 39.67 L424.70 39.67 L423.20 39.68 L421.70 39.68 L420.20 39.68 L418.70 39.68 L417.20 39.68 L415.70 39.68 L414.20 39.68 L412.70 39.68 L411.19 39.68 L409.69 39.68 L408.19 39.69 L406.69 39.69 L405.19 39.69 L403.69 39.69 L402.19 39.69 L400.68 39.69 L399.18 39.69 L397.68 39.70 L396.18 39.70 L394.68 39.70 L393.18 39.71 L391.68 39.71 L390.17 39.72 L388.67 39.72 L387.17 39.72 L385.67 39.73 L384.17 39.73 L382.67 39.73 L381.17 39.74 L379.67 39.74 L378.17 39.75 L376.66 39.75 L375.16 39.75 L373.66 39.76 L372.16 39.76 L370.66 39.76 L369.16 39.77 L367.66 39.77 L366.16 39.78 L364.66 39.78 L363.15 39.78 L361.65 39.79 L360.15 39.79 L358.65 39.79 L357.15 39.80 L355.65 39.80 L354.15 39.81 L352.65 39.81 L351.14 39.81 L349.64 39.82 L348.14 39.82 L346.64 39.82 L345.14 39.83 L343.64 39.83 L342.14 39.83 L340.64 39.84 L339.14 39.84 L337.63 39.85 L336.13 39.85 L334.63 39.85 L333.13 39.86 L331.63 39.86 L330.13 39.86 L328.63 39.87 L327.13 39.87 L325.62 39.88 L324.12 39.88 L322.62 39.88 L321.12 39.89 L319.62 39.90 L318.11 39.91 L316.61 39.92 L315.11 39.93 L313.61 39.94 L312.11 39.95 L310.61 39.96 L309.10 39.97 L307.60 39.98 L306.10 39.99 L304.60 40.00 L303.10 40.02 L301.60 40.03 L300.10 40.04 L298.60 40.05 L297.09 40.06 L295.59 40.07 L294.09 40.08 L292.59 40.09 L291.09 40.11 L289.59 40.12 L288.09 40.13 L286.59 40.14 L285.09 40.15 L283.58 40.16 L282.08 40.17 L280.58 40.19 L279.07 40.21 L277.57 40.23 L276.07 40.25 L274.57 40.27 L273.06 40.29 L271.56 40.31 L270.06 40.34 L268.56 40.36 L267.06 40.38 L265.56 40.40 L264.06 40.43 L262.55 40.45 L261.05 40.48 L259.54 40.51 L258.04 40.54 L256.54 40.58 L255.03 40.62 L253.53 40.66 L252.03 40.70 L250.53 40.74 L249.03 40.78 L247.52 40.82 L246.02 40.87 L244.51 40.92 L243.00 40.99 L241.50 41.05 L240.00 41.12 L238.49 41.20 L237.00 41.27 L235.49 41.34 L233.99 41.42 L232.49 41.49 L230.98 41.58 L229.47 41.67 L227.97 41.77 L226.47 41.87 L224.97 41.97 L223.47 42.08 L221.97 42.19 L220.48 42.29 L218.98 42.40 L217.47 42.51 L215.96 42.63 L214.45 42.77 L212.93 42.92 L211.42 43.11 L209.91 43.30 L208.42 43.51 L206.93 43.72 L205.44 43.93 L203.95 44.14 L202.44 44.37 L200.93 44.62 L199.42 44.90 L197.92 45.22 L196.43 45.56 L194.96 45.91 L193.49 46.27 L192.02 46.64 L190.54 47.03 L189.06 47.44 L187.59 47.89 L186.14 48.36 L184.71 48.83 L183.28 49.31 L181.86 49.79 L180.43 50.27 L179.01 50.75 L177.58 51.23 L176.16 51.71 L174.73 52.20 L173.30 52.70 L171.86 53.22 L170.43 53.76 L169.01 54.32 L167.59 54.90 L166.18 55.49 L164.77 56.11 L163.36 56.78 L161.96 57.49 L160.60 58.25 L159.26 59.03 L157.94 59.84 L156.64 60.68 L155.36 61.54 L154.10 62.44 L152.86 63.39 L151.66 64.36 L150.48 65.36 L149.32 66.37 L148.18 67.39 L147.06 68.42 L145.95 69.46 L144.84 70.52 L143.75 71.59 L142.67 72.68 L141.60 73.80 L140.56 74.94 L139.53 76.10 L138.54 77.28 L137.56 78.48 L136.62 79.70 L135.69 80.92 L134.78 82.16 L133.90 83.40 L133.02 84.65 L132.17 85.91 L131.32 87.18 L130.49 88.46 L129.67 89.75 L128.87 91.03 L128.08 92.31 L127.29 93.58 L126.50 94.85 L125.70 96.12 L124.90 97.40 L124.10 98.69 L123.31 100.02 L122.54 101.36 L121.81 102.71 L121.16 104.09 L120.53 105.46 L119.92 106.83 L119.30 108.20 L118.68 109.58 L118.06 110.97 L117.44 112.37 L116.83 113.77 L116.26 115.19 L115.71 116.62 L115.19 118.04 L114.67 119.44Z" fill="#9bbb59" stroke="#9bbb59" stroke-width="0.3" stroke-linejoin="round"/>
</g>
<path d="M266.9 372V24.8" stroke="#f39c62" stroke-width="3.1" stroke-dasharray="8.4 2.87" fill="none"/>
<path d="M397.6 63.6H427.5" stroke="#4f81bd" stroke-width="2.5"/>
<text x="429.5" y="69.8" font-weight="bold" font-size="17.5" fill="#333333">Au</text>
<path d="M397.6 98.1H427.5" stroke="#c0504d" stroke-width="2.5"/>
<text x="429.5" y="104.3" font-weight="bold" font-size="17.5" fill="#333333">Evaporated Bi</text>
<path d="M397.6 132.6H427.5" stroke="#9bbb59" stroke-width="2.5"/>
<text x="429.5" y="138.8" font-weight="bold" font-size="17.5" fill="#333333">Electroplated Bi</text>
<text transform="translate(42.88 45.08) scale(1.0659 1)" font-weight="normal" font-size="21.65" fill="#4a4a4a">0</text>
<text transform="translate(13.48 136.68) scale(0.9767 1)" font-weight="normal" font-size="21.65" fill="#4a4a4a">-100</text>
<text transform="translate(20.75 228.59) scale(1.0140 1)" font-weight="normal" font-size="20.66" fill="#4a4a4a">200</text>
<text transform="translate(13.48 320.98) scale(0.9641 1)" font-weight="normal" font-size="21.93" fill="#4a4a4a">-300</text>
<text transform="translate(13.48 412.38) scale(0.9831 1)" font-weight="normal" font-size="21.51" fill="#4a4a4a">-400</text>
<text transform="translate(54.11 437.03) scale(1.0400 1)" font-weight="normal" font-size="19.70" fill="#4a4a4a">-1.7</text>
<text transform="translate(140.81 437.03) scale(1.0400 1)" font-weight="normal" font-size="19.70" fill="#4a4a4a">-1.5</text>
<text transform="translate(226.11 437.22) scale(1.0400 1)" font-weight="normal" font-size="19.70" fill="#4a4a4a">-1.3</text>
<text transform="translate(312.11 437.03) scale(1.0400 1)" font-weight="normal" font-size="19.70" fill="#4a4a4a">-1.1</text>
<text transform="translate(399.51 437.22) scale(1.0400 1)" font-weight="normal" font-size="19.70" fill="#4a4a4a">-0.9</text>
<text transform="translate(484.81 437.22) scale(1.0400 1)" font-weight="normal" font-size="19.70" fill="#4a4a4a">-0.7</text>
<text transform="translate(571.11 437.22) scale(1.0400 1)" font-weight="normal" font-size="19.70" fill="#4a4a4a">-0.5</text>
<text transform="translate(262.13 467.78) scale(1.0528 1)" font-weight="bold" font-size="22.43" fill="#333333">Potential (V)</text>
<text transform="translate(17.97 291.33) rotate(-90) scale(1.0039 1)" font-weight="bold" font-size="23.07" fill="#333333">Current (μA)</text>
<text transform="translate(253.80 391.90) scale(0.9163 1)" font-weight="bold" font-size="18.35" fill="#333333">Zn</text>
<text transform="translate(-0.65 17.43) scale(0.9336 1)" font-size="24.52" fill="#333333">(a)</text>
<g fill="none">
<path d="M757.3 39.6H1278.7" stroke="#7f7f7f" stroke-width="2.2"/>
<path d="M1278.7 39.6V406.8" stroke="#8c8c8c" stroke-width="1.8"/>
<path d="M764.3 39.6V406.8" stroke="#d0d0d0" stroke-width="2"/>
<path d="M757.3 113.0H764.3" stroke="#bfbfbf" stroke-width="1.6"/>
<path d="M757.3 186.5H764.3" stroke="#bfbfbf" stroke-width="1.6"/>
<path d="M757.3 259.9H764.3" stroke="#bfbfbf" stroke-width="1.6"/>
<path d="M757.3 333.4H764.3" stroke="#bfbfbf" stroke-width="1.6"/>
</g>
<rect x="815.5" y="105.5" width="69" height="301.3" fill="#4f81bd"/>
<rect x="987.1" y="245.5" width="69" height="161.3" fill="#4f81bd"/>
<rect x="1159.4" y="319.7" width="69" height="87.1" fill="#4f81bd"/>
<path d="M850.5 72.6V138.5M846.5 72.6h8M846.5 138.5h8" stroke="#666" stroke-width="1.15" fill="none"/>
<path d="M1022.1 245.3V245.7M1018.1 245.3h8M1018.1 245.7h8" stroke="#666" stroke-width="1.15" fill="none"/>
<path d="M1194.4 311.9V327.5M1190.4 311.9h8M1190.4 327.5h8" stroke="#666" stroke-width="1.15" fill="none"/>
<path d="M757.3 406.8H1278.7" stroke="#a0a0a0" stroke-width="1.8" fill="none"/>
<path d="M935.8 406.8V401.3" stroke="#a0a0a0" stroke-width="1.5" fill="none"/>
<path d="M1107.2 406.8V401.3" stroke="#a0a0a0" stroke-width="1.5" fill="none"/>
<text transform="translate(709.86 46.97) scale(0.9151 1)" font-weight="bold" font-size="22.82" fill="#4a4a4a">-1.5</text>
<text transform="translate(710.84 119.30) scale(0.9575 1)" font-size="20.83" fill="#4a4a4a">-1.4</text>
<text transform="translate(710.84 192.74) scale(0.9575 1)" font-size="20.83" fill="#4a4a4a">-1.3</text>
<text transform="translate(710.84 266.18) scale(0.9575 1)" font-size="20.83" fill="#4a4a4a">-1.2</text>
<text transform="translate(710.84 339.62) scale(0.9575 1)" font-size="20.83" fill="#4a4a4a">-1.1</text>
<text transform="translate(726.95 413.70) scale(0.8846 1)" font-weight="normal" font-size="22.14" fill="#4a4a4a">-1</text>
<text transform="translate(777.06 436.60) scale(1.0392 1)" font-weight="normal" font-size="20.10" fill="#4a4a4a">Electroplated Bi</text>
<text transform="translate(956.16 437.20) scale(0.9838 1)" font-weight="normal" font-size="21.26" fill="#4a4a4a">Evaporated Bi</text>
<text transform="translate(1181.23 437.20) scale(0.9979 1)" font-weight="normal" font-size="20.68" fill="#4a4a4a">Au</text>
<text transform="translate(1012.30 468.00) scale(0.9177 1)" font-weight="bold" font-size="23.74" fill="#333333">WE</text>
<text transform="translate(708.70 344.73) rotate(-90) scale(0.9191 1)" font-weight="bold" font-size="25.19" fill="#333333">Threhold Potential (V)</text>
<text transform="translate(693.65 17.43) scale(0.9336 1)" font-size="24.52" fill="#333333">(b)</text>
<g transform="translate(13.48 136.68) scale(0.9767 1)" fill="#fff"><rect x="7.79" y="-2.92" width="4.80" height="3.72"/><rect x="14.60" y="-2.92" width="4.68" height="3.72"/></g>
<g transform="translate(54.11 437.03) scale(1.0400 1)" fill="#fff"><rect x="6.99" y="-2.77" width="4.45" height="3.57"/><rect x="13.28" y="-2.77" width="4.35" height="3.57"/></g>
<g transform="translate(140.81 437.03) scale(1.0400 1)" fill="#fff"><rect x="6.99" y="-2.77" width="4.45" height="3.57"/><rect x="13.28" y="-2.77" width="4.35" height="3.57"/></g>
<g transform="translate(226.11 437.22) scale(1.0400 1)" fill="#fff"><rect x="6.99" y="-2.77" width="4.45" height="3.57"/><rect x="13.28" y="-2.77" width="4.35" height="3.57"/></g>
<g transform="translate(312.11 437.03) scale(1.0400 1)" fill="#fff"><rect x="6.99" y="-2.77" width="4.45" height="3.57"/><rect x="13.28" y="-2.77" width="4.35" height="3.57"/></g>
<g transform="translate(312.11 437.03) scale(1.0400 1)" fill="#fff"><rect x="23.41" y="-2.77" width="4.45" height="3.57"/><rect x="29.70" y="-2.77" width="4.35" height="3.57"/></g>
<g transform="translate(709.86 46.97) scale(0.9151 1)" fill="#fff"><rect x="8.17" y="-3.63" width="4.69" height="4.43"/><rect x="16.09" y="-3.63" width="4.45" height="4.43"/></g>
<g transform="translate(710.84 119.30) scale(0.9575 1)" fill="#fff"><rect x="7.46" y="-2.86" width="4.65" height="3.66"/><rect x="14.06" y="-2.86" width="4.54" height="3.66"/></g>
<g transform="translate(710.84 192.74) scale(0.9575 1)" fill="#fff"><rect x="7.46" y="-2.86" width="4.65" height="3.66"/><rect x="14.06" y="-2.86" width="4.54" height="3.66"/></g>
<g transform="translate(710.84 266.18) scale(0.9575 1)" fill="#fff"><rect x="7.46" y="-2.86" width="4.65" height="3.66"/><rect x="14.06" y="-2.86" width="4.54" height="3.66"/></g>
<g transform="translate(710.84 339.62) scale(0.9575 1)" fill="#fff"><rect x="7.46" y="-2.86" width="4.65" height="3.66"/><rect x="14.06" y="-2.86" width="4.54" height="3.66"/></g>
<g transform="translate(710.84 339.62) scale(0.9575 1)" fill="#fff"><rect x="24.81" y="-2.86" width="4.65" height="3.66"/><rect x="31.40" y="-2.86" width="4.54" height="3.66"/></g>
<g transform="translate(726.95 413.70) scale(0.8846 1)" fill="#fff"><rect x="8.00" y="-2.95" width="4.88" height="3.75"/><rect x="14.94" y="-2.95" width="4.76" height="3.75"/></g>
</g>
</svg>
</body></html>
